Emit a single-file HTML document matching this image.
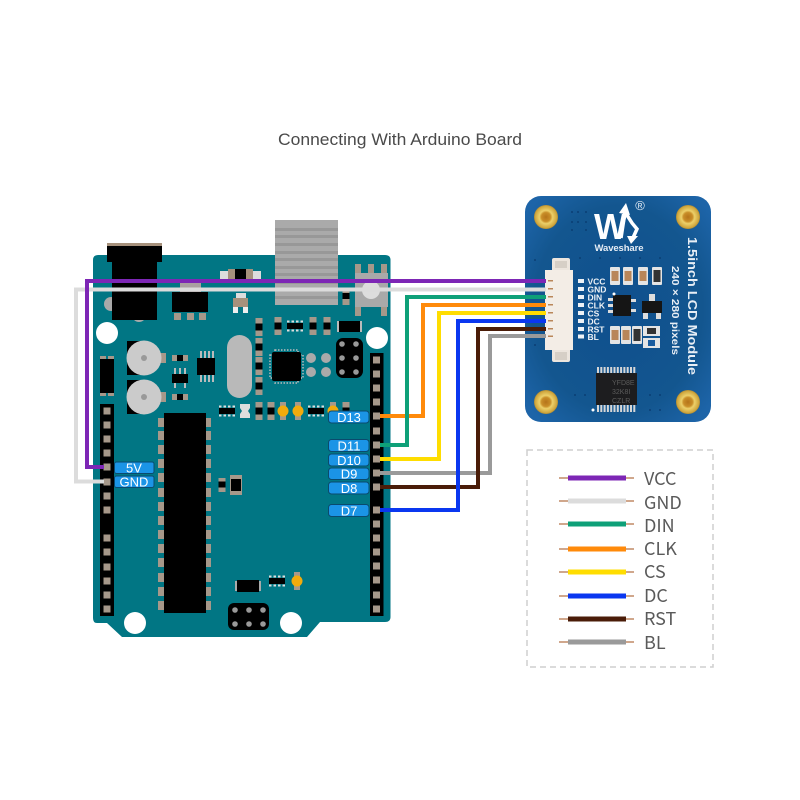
<!DOCTYPE html>
<html><head><meta charset="utf-8"><title>Connecting With Arduino Board</title>
<style>html,body{margin:0;padding:0;background:#fff}svg{display:block}</style></head>
<body>
<svg width="800" height="800" viewBox="0 0 800 800" xmlns="http://www.w3.org/2000/svg">
<defs>
<radialGradient id="lcd" cx="50%" cy="50%" r="65%"><stop offset="0" stop-color="#0f4f8e"/><stop offset="0.7" stop-color="#13568f"/><stop offset="1" stop-color="#1d64a8"/></radialGradient>
<radialGradient id="gold" cx="50%" cy="50%" r="50%"><stop offset="0" stop-color="#b5741a"/><stop offset="0.38" stop-color="#c98e28"/><stop offset="0.55" stop-color="#ecd06a"/><stop offset="0.9" stop-color="#cfa63e"/><stop offset="1" stop-color="#b08a30"/></radialGradient>
<g id="sv"><rect x="-3.500" y="-9" width="7" height="18" fill="#a6988a"/><rect x="-3.500" y="-3.500" width="7" height="7" fill="#000"/></g>
<g id="sh"><rect x="-8" y="-3" width="16" height="6" fill="#a6988a"/><rect x="-3" y="-3" width="6" height="6" fill="#000"/></g>
<g id="pack"><rect x="-8" y="-3" width="16" height="6" fill="#000"/><path d="M-8-5.500h2.500v2h-2.500zM-3.500-5.500h2.500v2h-2.500zM1-5.500h2.500v2h-2.500zM5.500-5.500h2.500v2h-2.500zM-8 3.500h2.500v2h-2.500zM-3.500 3.500h2.500v2h-2.500zM1 3.500h2.500v2h-2.500zM5.500 3.500h2.500v2h-2.500z" fill="#ddd"/></g>
<rect id="p" x="-3.500" y="-3.500" width="7" height="7" fill="#a6988a"/>
<g id="led"><rect x="-3" y="-9" width="6" height="18" fill="#a6988a"/><circle r="5.500" fill="#f2ab0d"/></g>
<g id="hole"><circle r="12" fill="url(#gold)"/></g>
<g id="cap"><rect x="-5" y="-9" width="10" height="18" rx="1" fill="#e4e4e4"/><rect x="-3.500" y="-5" width="7" height="10" fill="#b98659"/></g>
<g id="capd"><rect x="-5" y="-9" width="10" height="18" rx="1" fill="#e4e4e4"/><rect x="-3.500" y="-6" width="7" height="12" fill="#333"/></g>
</defs>

<text x="400" y="145" text-anchor="middle" textLength="244" lengthAdjust="spacingAndGlyphs" font-family="'Liberation Sans',sans-serif" font-size="16.500" fill="#4a4a4a">Connecting With Arduino Board</text>

<!-- heat sink -->
<rect x="275" y="220" width="63" height="85" fill="#aaa"/>
<g fill="#989898"><rect x="275" y="228" width="63" height="3"/><rect x="275" y="235" width="63" height="3"/><rect x="275" y="243" width="63" height="3"/><rect x="275" y="251" width="63" height="3"/><rect x="275" y="258" width="63" height="3"/><rect x="275" y="266" width="63" height="3"/><rect x="275" y="273" width="63" height="3"/></g>

<!-- board -->
<path d="M98 255H385Q390.500 255 390.500 260V617Q390.500 622 385 622H320L307 637H122L107 623H97Q93 623 93 618V260Q93 255 98 255Z" fill="#017684"/>
<rect x="275" y="255" width="63" height="50" fill="#aaa"/>
<g fill="#989898"><rect x="275" y="258" width="63" height="3"/><rect x="275" y="266" width="63" height="3"/><rect x="275" y="273" width="63" height="3"/><rect x="275" y="281" width="63" height="3"/><rect x="275" y="288" width="63" height="3"/><rect x="275" y="296" width="63" height="3"/></g>

<!-- power jack -->
<circle cx="111" cy="304" r="7" fill="#a9a9a9"/><circle cx="139" cy="315" r="7" fill="#a9a9a9"/>
<rect x="107" y="243" width="55" height="4" fill="#a6917c"/>
<rect x="107" y="246" width="55" height="16" fill="#000"/>
<rect x="112" y="262" width="45" height="58" fill="#000"/>
<!-- regulator -->
<rect x="180" y="283" width="21" height="10" fill="#a9a0a0"/>
<rect x="172" y="292" width="36" height="20" fill="#000"/>
<g fill="#a6988a"><rect x="174" y="313" width="7" height="7"/><rect x="187" y="313" width="7" height="7"/><rect x="199" y="313" width="7" height="7"/></g>
<!-- top transistor -->
<g><rect x="220" y="271" width="41" height="12" fill="#ddd"/><rect x="228" y="269" width="25" height="14" fill="#a6917c"/><rect x="235" y="269" width="11" height="14" fill="#000"/><rect x="236" y="293" width="10" height="6" fill="#ddd"/><rect x="233" y="298" width="15" height="9" fill="#a6917c"/><rect x="233" y="307" width="5" height="6" fill="#eee"/><rect x="243" y="307" width="5" height="6" fill="#eee"/></g>

<!-- holes -->
<g fill="#fff"><circle cx="107" cy="333" r="11"/><circle cx="377" cy="338" r="11"/><circle cx="135" cy="623" r="11"/><circle cx="291" cy="623" r="11"/></g>

<!-- electrolytic caps -->
<rect x="127" y="341" width="18" height="34" fill="#000"/><rect x="127" y="380" width="18" height="34" fill="#000"/>
<rect x="160" y="353" width="6" height="10" fill="#a6988a"/><rect x="160" y="392" width="6" height="10" fill="#a6988a"/>
<circle cx="144" cy="358" r="17.500" fill="#cbcbcb"/><circle cx="144" cy="358" r="3" fill="#999"/>
<circle cx="144" cy="397" r="17.500" fill="#cbcbcb"/><circle cx="144" cy="397" r="3" fill="#999"/>

<!-- left tall chip -->
<rect x="100" y="359" width="14" height="34" fill="#000"/>
<g fill="#a6988a"><rect x="100" y="356" width="6" height="3"/><rect x="108" y="356" width="6" height="3"/><rect x="100" y="393" width="6" height="3"/><rect x="108" y="393" width="6" height="3"/></g>

<!-- small parts -->
<use href="#sh" x="180" y="358"/><use href="#sh" x="180" y="397"/>
<rect x="172" y="374" width="16" height="9" fill="#000"/>
<g fill="#bbb"><rect x="174" y="368" width="2" height="6"/><rect x="179" y="368" width="2" height="6"/><rect x="184" y="368" width="2" height="6"/><rect x="174" y="383" width="2" height="5"/><rect x="184" y="383" width="2" height="5"/></g>
<rect x="197" y="358" width="18" height="17" fill="#000"/>
<g fill="#bbb"><rect x="200" y="351" width="2" height="7"/><rect x="204" y="351" width="2" height="7"/><rect x="208" y="351" width="2" height="7"/><rect x="212" y="351" width="2" height="7"/><rect x="200" y="375" width="2" height="7"/><rect x="204" y="375" width="2" height="7"/><rect x="208" y="375" width="2" height="7"/><rect x="212" y="375" width="2" height="7"/></g>

<!-- crystal -->
<rect x="227" y="335" width="25" height="63" rx="12.500" fill="#b9b9b9"/>

<!-- qfp -->
<rect x="270" y="355" width="33" height="23" fill="none" stroke="#bbb" stroke-width="1.500" stroke-dasharray="1.500 1.500"/>
<rect x="275" y="350" width="23" height="33" fill="none" stroke="#bbb" stroke-width="1.500" stroke-dasharray="1.500 1.500"/>
<rect x="272" y="352" width="29" height="29" rx="2" fill="#000"/>

<use href="#sv" x="259" y="327"/><use href="#sv" x="259" y="347"/><use href="#sv" x="259" y="366"/><use href="#sv" x="259" y="386"/>
<use href="#sv" x="278" y="326"/><use href="#pack" x="295" y="326"/><use href="#sv" x="313" y="326"/><use href="#sv" x="327" y="326"/>
<rect x="338" y="321" width="23" height="11" fill="#000"/><rect x="337" y="321" width="2" height="11" fill="#bbb"/><rect x="360" y="321" width="2" height="11" fill="#bbb"/>
<g transform="translate(346,298)"><rect x="-3.500" y="-7" width="7" height="14" fill="#a6988a"/><rect x="-3.500" y="-5" width="7" height="6" fill="#000"/></g>

<!-- row near D13 -->
<use href="#pack" x="227" y="411"/>
<path d="M240 404h10v4l-2 3 2 3v4h-10v-4l2-3-2-3z" fill="#ddd"/>
<use href="#sv" x="259" y="411"/><use href="#sv" x="271" y="411"/>
<use href="#led" x="283" y="411"/><use href="#led" x="298" y="411"/><use href="#pack" x="316" y="411"/><use href="#led" x="333" y="411"/><use href="#sv" x="346" y="411"/>

<!-- reset button -->
<g fill="#a6988a"><rect x="355" y="264" width="6" height="10"/><rect x="368" y="264" width="6" height="10"/><rect x="381" y="264" width="6" height="10"/><rect x="355" y="306" width="6" height="10"/><rect x="381" y="306" width="6" height="10"/></g>
<rect x="355" y="273" width="33" height="34" fill="#a9a9a9"/>
<circle cx="371" cy="290" r="9" fill="#ddd"/>

<!-- ICSP top -->
<rect x="336" y="338" width="27" height="40" rx="7" fill="#000"/>
<g fill="#999"><circle cx="342" cy="344" r="2.800"/><circle cx="356" cy="344" r="2.800"/><circle cx="342" cy="358" r="2.800"/><circle cx="356" cy="358" r="2.800"/><circle cx="342" cy="372" r="2.800"/><circle cx="356" cy="372" r="2.800"/></g>
<g fill="#aaa"><circle cx="311" cy="358" r="5"/><circle cx="326" cy="358" r="5"/><circle cx="311" cy="372" r="5"/><circle cx="326" cy="372" r="5"/></g>

<!-- DIP -->
<rect x="164" y="413" width="42" height="200" fill="#000"/>
<g fill="#a6988a">
<rect x="158" y="418" width="6" height="9"/><rect x="206" y="418" width="5" height="9"/>
<rect x="158" y="431" width="6" height="9"/><rect x="206" y="431" width="5" height="9"/>
<rect x="158" y="445" width="6" height="9"/><rect x="206" y="445" width="5" height="9"/>
<rect x="158" y="459" width="6" height="9"/><rect x="206" y="459" width="5" height="9"/>
<rect x="158" y="473" width="6" height="9"/><rect x="206" y="473" width="5" height="9"/>
<rect x="158" y="488" width="6" height="9"/><rect x="206" y="488" width="5" height="9"/>
<rect x="158" y="502" width="6" height="9"/><rect x="206" y="502" width="5" height="9"/>
<rect x="158" y="516" width="6" height="9"/><rect x="206" y="516" width="5" height="9"/>
<rect x="158" y="530" width="6" height="9"/><rect x="206" y="530" width="5" height="9"/>
<rect x="158" y="544" width="6" height="9"/><rect x="206" y="544" width="5" height="9"/>
<rect x="158" y="558" width="6" height="9"/><rect x="206" y="558" width="5" height="9"/>
<rect x="158" y="573" width="6" height="9"/><rect x="206" y="573" width="5" height="9"/>
<rect x="158" y="587" width="6" height="9"/><rect x="206" y="587" width="5" height="9"/>
<rect x="158" y="601" width="6" height="9"/><rect x="206" y="601" width="5" height="9"/>
</g>

<!-- bottom parts -->
<g transform="translate(222,485)"><rect x="-3.500" y="-7" width="7" height="14" fill="#a6988a"/><rect x="-3.500" y="-3.500" width="7" height="6" fill="#000"/></g>
<g transform="translate(236,485)"><rect x="-6" y="-10" width="12" height="20" fill="#a6988a"/><rect x="-5" y="-6" width="10" height="12" fill="#000"/></g>
<rect x="237" y="580" width="22" height="12" fill="#000"/><rect x="235" y="581" width="2" height="10" fill="#aaa"/><rect x="259" y="581" width="2" height="10" fill="#aaa"/>
<use href="#pack" x="277" y="581"/><use href="#led" x="297" y="581"/>
<rect x="228" y="603" width="41" height="27" rx="6" fill="#000"/>
<g fill="#999"><circle cx="235" cy="610" r="2.800"/><circle cx="249" cy="610" r="2.800"/><circle cx="263" cy="610" r="2.800"/><circle cx="235" cy="624" r="2.800"/><circle cx="249" cy="624" r="2.800"/><circle cx="263" cy="624" r="2.800"/></g>

<!-- headers -->
<rect x="100" y="404" width="14" height="212" fill="#000"/>
<rect x="370" y="353" width="13.500" height="263" fill="#000"/>
<g>
<use href="#p" x="107" y="411"/><use href="#p" x="107" y="425"/><use href="#p" x="107" y="439"/><use href="#p" x="107" y="453"/><use href="#p" x="107" y="467"/><use href="#p" x="107" y="482"/><use href="#p" x="107" y="496"/><use href="#p" x="107" y="510"/><use href="#p" x="107" y="538"/><use href="#p" x="107" y="552"/><use href="#p" x="107" y="567"/><use href="#p" x="107" y="581"/><use href="#p" x="107" y="595"/><use href="#p" x="107" y="609"/>
<use href="#p" x="376.500" y="360"/><use href="#p" x="376.500" y="374"/><use href="#p" x="376.500" y="388"/><use href="#p" x="376.500" y="402"/><use href="#p" x="376.500" y="416"/><use href="#p" x="376.500" y="431"/><use href="#p" x="376.500" y="445"/><use href="#p" x="376.500" y="459"/><use href="#p" x="376.500" y="473"/><use href="#p" x="376.500" y="487"/><use href="#p" x="376.500" y="510"/><use href="#p" x="376.500" y="524"/><use href="#p" x="376.500" y="538"/><use href="#p" x="376.500" y="552"/><use href="#p" x="376.500" y="566"/><use href="#p" x="376.500" y="580"/><use href="#p" x="376.500" y="595"/><use href="#p" x="376.500" y="609"/>
</g>

<!-- pin labels -->
<g fill="#1b94e6" stroke="#0a4a6e" stroke-width="1">
<rect x="114.500" y="462" width="39.500" height="11.500" rx="2"/><rect x="114.500" y="476" width="39.500" height="11.500" rx="2"/>
<rect x="328.500" y="411" width="40.500" height="12" rx="3"/><rect x="328.500" y="439.500" width="40.500" height="12" rx="3"/><rect x="328.500" y="454" width="40.500" height="12" rx="3"/><rect x="328.500" y="468" width="40.500" height="11.500" rx="3"/><rect x="328.500" y="482" width="40.500" height="12" rx="3"/><rect x="328.500" y="504.500" width="40.500" height="12" rx="3"/>
</g>
<g fill="#fff" font-family="'Liberation Sans',sans-serif" font-size="13" text-anchor="middle">
<text x="134" y="472.500">5V</text><text x="134" y="486.500">GND</text>
<text x="349" y="422">D13</text><text x="349" y="450.500">D11</text><text x="349" y="465">D10</text><text x="349" y="478.500">D9</text><text x="349" y="493">D8</text><text x="349" y="515.500">D7</text>
</g>

<!-- LCD module -->
<rect x="525" y="196" width="186" height="226" rx="16" fill="url(#lcd)"/>
<g fill="#0b3f74"><circle cx="572" cy="212" r="1"/><circle cx="578" cy="212" r="1"/><circle cx="586" cy="212" r="1"/><circle cx="572" cy="222" r="1"/><circle cx="578" cy="222" r="1"/><circle cx="586" cy="222" r="1"/><circle cx="572" cy="230" r="1"/><circle cx="586" cy="230" r="1"/><circle cx="535" cy="260" r="1"/><circle cx="535" cy="345" r="1"/><circle cx="580" cy="258" r="1"/><circle cx="600" cy="258" r="1"/><circle cx="620" cy="258" r="1"/><circle cx="640" cy="258" r="1"/><circle cx="660" cy="258" r="1"/><circle cx="575" cy="395" r="1"/><circle cx="585" cy="395" r="1"/><circle cx="650" cy="395" r="1"/><circle cx="660" cy="395" r="1"/><circle cx="650" cy="410" r="1"/><circle cx="660" cy="410" r="1"/></g>
<use href="#hole" x="546" y="217"/><use href="#hole" x="688" y="217"/><use href="#hole" x="546" y="402"/><use href="#hole" x="688" y="402"/>
<text x="594" y="239" font-family="'Liberation Sans',sans-serif" font-weight="bold" font-size="36" fill="#fff" textLength="33" lengthAdjust="spacingAndGlyphs">W</text>
<path d="M621 238 L625 212 M625 212 L632 223 L637 229 L632 240" fill="none" stroke="#fff" stroke-width="3.500"/>
<path d="M619 213 L626 203 L630 215Z M627 236 L638 236 L631 244Z" fill="#fff"/>
<text x="640" y="210" font-family="'Liberation Sans',sans-serif" font-size="13" fill="#dfe9f3" text-anchor="middle">®</text>
<text x="619" y="251" font-family="'Liberation Sans',sans-serif" font-weight="bold" font-size="9.500" fill="#e6edf5" text-anchor="middle" textLength="49">Waveshare</text>
<text transform="translate(688,237) rotate(90)" font-family="'Liberation Sans',sans-serif" font-weight="bold" font-size="12.500" fill="#e8eef5" textLength="138" lengthAdjust="spacingAndGlyphs">1.5inch LCD Module</text>
<text transform="translate(672,266) rotate(90)" font-family="'Liberation Sans',sans-serif" font-weight="bold" font-size="10.500" fill="#e8eef5" textLength="89" lengthAdjust="spacingAndGlyphs">240 × 280 pixels</text>

<!-- LCD pads + labels -->
<g fill="#eef2f6"><rect x="578" y="279" width="6" height="4"/><rect x="578" y="287" width="6" height="4"/><rect x="578" y="295" width="6" height="4"/><rect x="578" y="303" width="6" height="4"/><rect x="578" y="311" width="6" height="4"/><rect x="578" y="319" width="6" height="4"/><rect x="578" y="327" width="6" height="4"/><rect x="578" y="334.500" width="6" height="4"/></g>
<g font-family="'Liberation Sans',sans-serif" font-weight="bold" font-size="8.500" fill="#eef2f6">
<text x="587.500" y="284.500">VCC</text><text x="587.500" y="292.500">GND</text><text x="587.500" y="300.500">DIN</text><text x="587.500" y="308.500">CLK</text><text x="587.500" y="316.500">CS</text><text x="587.500" y="324.500">DC</text><text x="587.500" y="332.500">RST</text><text x="587.500" y="340">BL</text>
</g>

<!-- LCD SMD -->
<use href="#cap" x="615" y="276"/><use href="#cap" x="628" y="276"/><use href="#cap" x="643" y="276"/><use href="#capd" x="657" y="276"/>
<use href="#cap" x="615" y="335"/><use href="#cap" x="626" y="335"/><use href="#capd" x="637" y="335"/>
<rect x="643" y="326" width="17" height="10" fill="#e4e4e4"/><rect x="647" y="328" width="9" height="6" fill="#333"/>
<rect x="643" y="338" width="17" height="10" fill="#e4e4e4"/><rect x="648" y="340" width="7" height="6" fill="#1a5c9e"/>
<rect x="613" y="295" width="18" height="21" fill="#151515"/>
<g fill="#ddd"><rect x="608" y="298" width="5" height="3"/><rect x="608" y="304" width="5" height="3"/><rect x="608" y="310" width="5" height="3"/><rect x="631" y="299" width="5" height="3"/><rect x="631" y="309" width="5" height="3"/></g>
<circle cx="614" cy="294" r="1.500" fill="#fff"/>
<rect x="642" y="301" width="20" height="12" fill="#151515"/>
<g fill="#ddd"><rect x="649" y="294" width="6" height="7"/><rect x="643" y="313" width="5" height="6"/><rect x="656" y="313" width="5" height="6"/></g>

<!-- LCD big IC -->
<rect x="596" y="373" width="41" height="32" fill="#1d1d1f"/>
<g fill="#d6d6d6">
<rect x="597" y="367" width="2" height="6"/><rect x="600.300" y="367" width="2" height="6"/><rect x="603.600" y="367" width="2" height="6"/><rect x="606.900" y="367" width="2" height="6"/><rect x="610.200" y="367" width="2" height="6"/><rect x="613.500" y="367" width="2" height="6"/><rect x="616.800" y="367" width="2" height="6"/><rect x="620.100" y="367" width="2" height="6"/><rect x="623.400" y="367" width="2" height="6"/><rect x="626.700" y="367" width="2" height="6"/><rect x="630" y="367" width="2" height="6"/><rect x="633.300" y="367" width="2" height="6"/>
<rect x="597" y="405" width="2" height="7"/><rect x="600.300" y="405" width="2" height="7"/><rect x="603.600" y="405" width="2" height="7"/><rect x="606.900" y="405" width="2" height="7"/><rect x="610.200" y="405" width="2" height="7"/><rect x="613.500" y="405" width="2" height="7"/><rect x="616.800" y="405" width="2" height="7"/><rect x="620.100" y="405" width="2" height="7"/><rect x="623.400" y="405" width="2" height="7"/><rect x="626.700" y="405" width="2" height="7"/><rect x="630" y="405" width="2" height="7"/><rect x="633.300" y="405" width="2" height="7"/>
</g>
<circle cx="593" cy="410" r="1.500" fill="#fff"/>
<g font-family="'Liberation Sans',sans-serif" font-size="7" fill="#5b5b5b"><text x="612" y="385">YFD8E</text><text x="612" y="394">32K8I</text><text x="612" y="403">CZLR</text></g>

<!-- connector -->
<rect x="552" y="258" width="18" height="104" rx="2" fill="#ece5dd"/>
<rect x="545" y="270" width="28" height="80" fill="#f3ede6"/>
<rect x="555" y="261" width="12" height="7" fill="#d6cfc6"/><rect x="555" y="352" width="12" height="8" fill="#d6cfc6"/>
<g fill="#b98659"><rect x="548" y="280" width="5" height="1.500"/><rect x="548" y="288" width="5" height="1.500"/><rect x="548" y="296" width="5" height="1.500"/><rect x="548" y="304" width="5" height="1.500"/><rect x="548" y="312" width="5" height="1.500"/><rect x="548" y="320" width="5" height="1.500"/><rect x="548" y="328" width="5" height="1.500"/><rect x="548" y="335.500" width="5" height="1.500"/></g>

<!-- wires -->
<g fill="none" stroke-width="4" stroke-linejoin="miter">
<polyline points="104,481.500 76,481.500 76,289.500 546,289.500" stroke="#dcdcdc"/>
<polyline points="380,416 423,416 423,305 546,305" stroke="#ff8a0a"/>
<polyline points="380,445 407,445 407,297 546,297" stroke="#0ea078"/>
<polyline points="380,459 439,459 439,313 546,313" stroke="#ffdd00"/>
<polyline points="380,473 490,473 490,336 546,336" stroke="#9a9a9a"/>
<polyline points="380,487 478,487 478,329 546,329" stroke="#4a1c08"/>
<polyline points="380,510 458,510 458,321 546,321" stroke="#0a37f0"/>
<polyline points="104,467 87,467 87,281 546,281" stroke="#7d26b5"/>
</g>

<!-- legend -->
<rect x="527" y="450" width="186" height="217" fill="none" stroke="#cfcfcf" stroke-width="1.500" stroke-dasharray="6 4"/>
<g stroke="#c08a66" stroke-width="1.500">
<line x1="559" x2="634" y1="478" y2="478"/><line x1="559" x2="634" y1="501" y2="501"/><line x1="559" x2="634" y1="524" y2="524"/><line x1="559" x2="634" y1="549" y2="549"/><line x1="559" x2="634" y1="572" y2="572"/><line x1="559" x2="634" y1="596" y2="596"/><line x1="559" x2="634" y1="619" y2="619"/><line x1="559" x2="634" y1="642" y2="642"/>
</g>
<rect x="568" y="475.500" width="58" height="5" fill="#7d26b5"/>
<rect x="568" y="498.500" width="58" height="5" fill="#dcdcdc"/>
<rect x="568" y="521.500" width="58" height="5" fill="#0ea078"/>
<rect x="568" y="546.500" width="58" height="5" fill="#ff8a0a"/>
<rect x="568" y="569.500" width="58" height="5" fill="#ffdd00"/>
<rect x="568" y="593.500" width="58" height="5" fill="#0a37f0"/>
<rect x="568" y="616.500" width="58" height="5" fill="#4a1c08"/>
<rect x="568" y="639.500" width="58" height="5" fill="#9a9a9a"/>
<g font-family="'Noto Sans CJK SC','Liberation Sans',sans-serif" font-size="18" fill="#5a5a5a">
<text x="644" y="485">VCC</text><text x="644" y="509">GND</text><text x="644" y="532">DIN</text><text x="644" y="555">CLK</text><text x="644" y="578">CS</text><text x="644" y="602">DC</text><text x="644" y="625">RST</text><text x="644" y="649">BL</text>
</g>
</svg>
</body></html>
